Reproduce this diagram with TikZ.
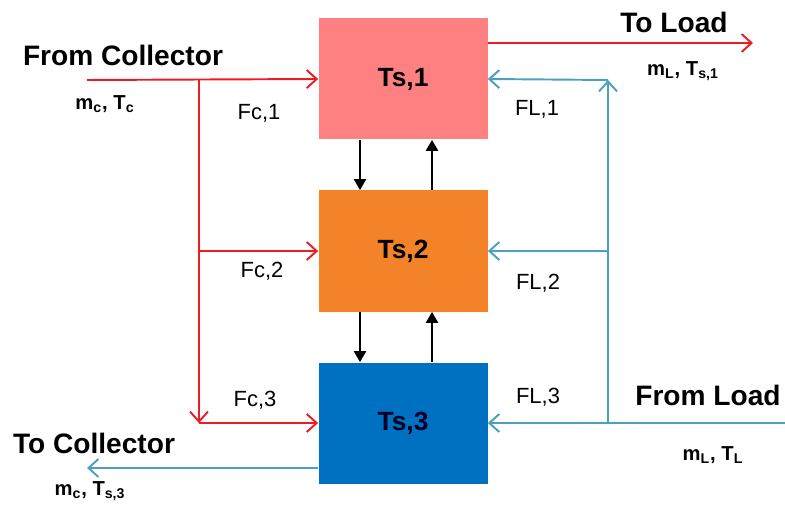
\documentclass[tikz,border=0pt]{standalone}
\usepackage{fontspec}
\setmainfont{Liberation Sans}
\usetikzlibrary{arrows.meta,calc}
\definecolor{tsone}{RGB}{255,128,128}
\definecolor{tstwo}{RGB}{244,130,40}
\definecolor{tsthree}{RGB}{0,112,192}
\definecolor{flowred}{RGB}{237,28,36}
\definecolor{flowblue}{RGB}{75,160,190}

\begin{document}
\begin{tikzpicture}[x=0.2mm, y=-0.2mm,
  tank/.style={minimum width=33.8mm, minimum height=24.2mm, inner sep=0pt, font=\fontsize{15}{18}\selectfont\bfseries},
  hot/.style={flowred, line width=1.1pt, -{Straight Barb[length=2mm,width=3.6mm]}},
  cold/.style={flowblue, line width=1.1pt, -{Straight Barb[length=2mm,width=3.6mm]}},
  mix/.style={black, line width=1.3pt, -{Triangle[length=2.2mm,width=2.4mm]}},
  endlabel/.style={font=\fontsize{16}{19}\selectfont\bfseries},
  flowlabel/.style={font=\fontsize{12.5}{15}\selectfont},
  proplabel/.style={font=\fontsize{11.5}{13}\selectfont\bfseries}]
\useasboundingbox (0,0) rectangle (785,506);

% Tanks
\node[tank, fill=tsone] (t1) at (403,79) {Ts,1};
\node[tank, fill=tstwo] (t2) at (403,251) {Ts,2};
\node[tank, fill=tsthree, text=black!85!blue] (t3) at (403,423) {Ts,3};

% Junctions
\coordinate (cin) at (87,80);
\coordinate (cj1) at (199,80);
\coordinate (cj2) at (199,251);
\coordinate (cj3) at (199,423);
\coordinate (cout) at (87,468);
\coordinate (tload) at (753,43);
\coordinate (lin) at (785,423);
\coordinate (lj1) at (608,80);
\coordinate (lj2) at (608,251);
\coordinate (lj3) at (608,423);

% Collector side
\draw[hot] (cin) -- (t1.west);
\draw[hot] (cj1) -- (cj3);
\draw[hot] (cj2) -- (t2.west);
\draw[hot] (cj3) -- (t3.west);
\draw[cold] (t3.west |- cout) -- (cout);

% Load side
\draw[hot] (t1.east |- tload) -- (tload);
\draw[cold] (lin) -- (t3.east);
\draw[cold] (lj3) -- (lj1);
\draw[cold] (lj1) -- (t1.east);
\draw[cold] (lj2) -- (t2.east);

% Mixing between tanks
\draw[mix] ($(t1.south)+(-43,0)$) -- ($(t2.north)+(-43,0)$);
\draw[mix] ($(t2.north)+(29,0)$) -- ($(t1.south)+(29,0)$);
\draw[mix] ($(t2.south)+(-43,0)$) -- ($(t3.north)+(-43,0)$);
\draw[mix] ($(t3.north)+(29,0)$) -- ($(t2.south)+(29,0)$);

% Labels
\node[endlabel] (fromcoll) at (123,55) {From Collector};
\node[proplabel] (pcin) at (105,104) {m\textsubscript{c}, T\textsubscript{c}};
\node[endlabel] (tocoll) at (94,443) {To Collector};
\node[proplabel] (pcout) at (90,491) {m\textsubscript{c}, T\textsubscript{s,3}};
\node[endlabel] (toload) at (674,22) {To Load};
\node[proplabel] (plout) at (683,71) {m\textsubscript{L}, T\textsubscript{s,1}};
\node[endlabel] (fromload) at (708,395) {From Load};
\node[proplabel] (plin) at (713,455) {m\textsubscript{L}, T\textsubscript{L}};

\node[flowlabel] (fc1) at (259,113) {Fc,1};
\node[flowlabel] (fc2) at (262,271) {Fc,2};
\node[flowlabel] (fc3) at (255,400) {Fc,3};
\node[flowlabel] (fl1) at (537,109) {FL,1};
\node[flowlabel] (fl2) at (538,283) {FL,2};
\node[flowlabel] (fl3) at (538,397) {FL,3};
\end{tikzpicture}
\end{document}
